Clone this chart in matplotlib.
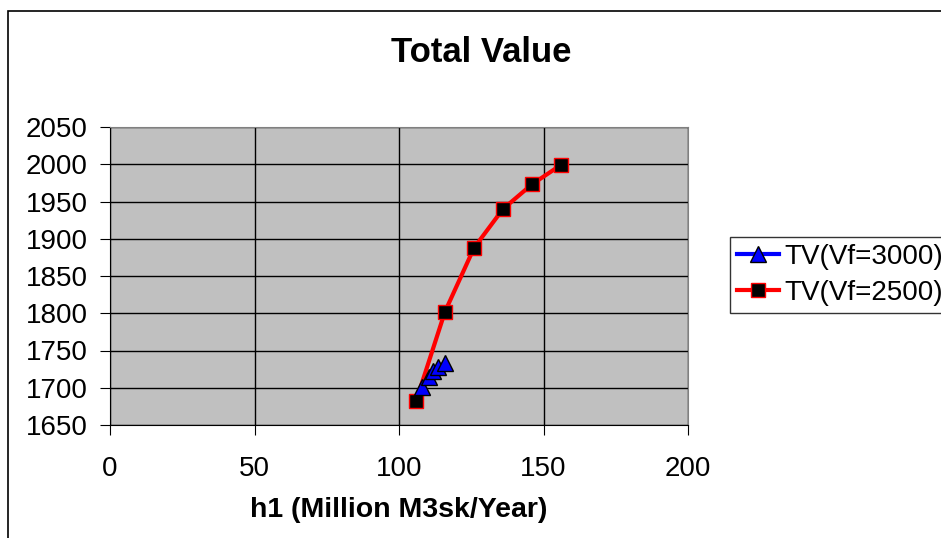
import matplotlib.pyplot as plt
import matplotlib.patches as patches

# data
h1_3000 = [108.0, 110.4, 111.8, 113.5, 115.9]
tv_3000 = [1701, 1714, 1722, 1728, 1733]

h1_2500 = [105.9, 115.9, 126.0, 136.0, 146.0, 156.0]
tv_2500 = [1682, 1802, 1888, 1940, 1973, 1999]

x_ticks = [0, 50, 100, 150, 200]
y_ticks = [1650, 1700, 1750, 1800, 1850, 1900, 1950, 2000, 2050]

plt.rcParams['font.family'] = ['Liberation Sans', 'DejaVu Sans']

fig = plt.figure(figsize=(9.41, 5.38), dpi=100)
# chart area border
fig.patches.append(patches.Rectangle((8 / 941, -0.1), 1.2, (538 - 11) / 538 + 0.1,
                                     transform=fig.transFigure, fill=False,
                                     edgecolor='black', linewidth=1.2))

ax = fig.add_axes([110 / 941, 113 / 538, 578 / 941, 298 / 538])
ax.set_facecolor('#C0C0C0')

ax.plot(h1_3000, tv_3000, color='blue', linewidth=3, marker='^', markersize=11,
        markerfacecolor='blue', markeredgecolor='black', label='TV(Vf=3000)', zorder=3)
ax.plot(h1_2500, tv_2500, color='red', linewidth=3, marker='s', markersize=10,
        markerfacecolor='black', markeredgecolor='red', label='TV(Vf=2500)', zorder=2)

ax.set_xlim(0, 200)
ax.set_ylim(1650, 2050)
ax.set_xticks(x_ticks)
ax.set_yticks(y_ticks)
ax.grid(True, color='black', linewidth=1)
ax.set_axisbelow(True)
ax.tick_params(labelsize=20, length=7, direction='out')
ax.tick_params(axis='y', pad=9)
ax.tick_params(axis='x', pad=15)
for s in ['top', 'right']:
    ax.spines[s].set_color('#808080')
for s in ['left', 'bottom']:
    ax.spines[s].set_color('black')

fig.text(481 / 941, 1 - 52 / 538, 'Total Value', fontsize=25, fontweight='bold',
         ha='center', va='center')
ax.set_xlabel('h1 (Million M3sk/Year)', fontsize=20.5, fontweight='bold', labelpad=11)

leg = ax.legend(loc='upper left', bbox_to_anchor=(730 / 941, 1 - 237 / 538),
                bbox_transform=fig.transFigure, fontsize=20,
                frameon=True, fancybox=False, edgecolor='black', handlelength=1.5,
                borderpad=0.25, labelspacing=0.36, handletextpad=0.2, borderaxespad=0)
leg.get_frame().set_linewidth(1)

fig.savefig('out.png', dpi=100)
